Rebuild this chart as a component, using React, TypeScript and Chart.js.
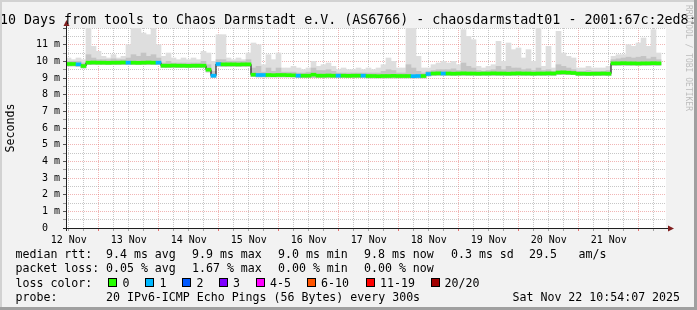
import React, { useEffect, useRef } from 'react';
import { Chart, registerables } from 'chart.js';

Chart.register(...registerables);

// ---------- data ----------
const titleText = '10 Days from tools to Chaos Darmstadt e.V. (AS6766) - chaosdarmstadt01 - 2001:67c:2ed8:';
const yAxisTitle = 'Seconds';
const watermark = 'RRDTOOL / TOBI OETIKER';

// x in hours since Wed Nov 12 10:54:07 2025 (10-day window), 2h bins
const rangeHours = 240;
const binHours = 2;
const firstNoonOffset = 1.1; // 12 Nov 12:00 relative to window start
const dayLabels = ['12 Nov', '13 Nov', '14 Nov', '15 Nov', '16 Nov', '17 Nov', '18 Nov', '19 Nov', '20 Nov', '21 Nov'];
const yLabels = ['0  ', '1 m', '2 m', '3 m', '4 m', '5 m', '6 m', '7 m', '8 m', '9 m', '10 m', '11 m', ''];

// values in milliseconds (axis unit m = milli-seconds)
const medianRtt = [
  9.84, 9.84, 9.82, 9.72,
  9.92, 9.93, 9.92, 9.92, 9.91, 9.92, 9.92, 9.93, 9.92, 9.92, 9.91, 9.92, 9.93, 9.92, 9.92,
  9.74, 9.74, 9.75, 9.74, 9.74, 9.73, 9.74, 9.74, 9.74,
  9.5, 9.14,
  9.84, 9.82, 9.82, 9.82, 9.81, 9.82, 9.82,
  9.2,
  9.18, 9.18, 9.18, 9.17, 9.18, 9.18, 9.17, 9.16,
  9.14, 9.14, 9.14, 9.2, 9.14, 9.14, 9.15, 9.14,
  9.14, 9.14, 9.13, 9.14, 9.14, 9.14,
  9.12, 9.12, 9.11, 9.12, 9.12, 9.13, 9.12, 9.12, 9.12, 9.11, 9.12, 9.12,
  9.24,
  9.27, 9.28, 9.27, 9.27, 9.26, 9.27, 9.28, 9.27, 9.27, 9.26, 9.27, 9.27, 9.28,
  9.27, 9.27, 9.26, 9.27, 9.28, 9.27, 9.27, 9.26, 9.27, 9.27, 9.28, 9.27,
  9.33, 9.34, 9.32, 9.3,
  9.26, 9.26, 9.25, 9.26, 9.26, 9.27, 9.26,
  9.88, 9.88, 9.89, 9.88, 9.88, 9.87, 9.88, 9.88, 9.89, 9.88,
  null,
];

const smokeMax = [
  10.2, 10.1, 10.2, 10.1, 12.0, 10.9, 10.6, 10.3, 10.2, 10.4,
  10.2, 10.3, 11.0, 12.0, 12.0, 11.7, 11.6, 12.0, 11.0, 10.3,
  10.5, 10.2, 10.1, 10.2, 10.1, 10.2, 10.1, 10.6, 10.5, 10.0,
  11.6, 11.6, 10.2, 10.1, 10.2, 10.1, 10.5, 11.1, 11.0, 9.8,
  10.4, 10.1, 10.5, 9.6, 9.6, 9.7, 9.6, 9.5, 9.6, 10.0,
  9.7, 9.8, 9.9, 9.7, 9.5, 9.6, 9.5, 9.5, 9.6, 9.5,
  9.6, 9.5, 9.6, 9.8, 10.2, 10.0, 9.6, 9.6, 12.0, 12.0,
  10.3, 9.6, 9.6, 9.8, 9.9, 10.0, 9.9, 10.0, 9.8, 11.9,
  11.5, 11.3, 9.7, 9.6, 9.7, 9.8, 11.2, 10.0, 11.1, 10.7,
  10.8, 10.2, 10.7, 10.0, 12.0, 9.7, 10.9, 9.6, 11.8, 10.5,
  10.3, 10.2, 9.6, 9.6, 9.7, 9.6, 9.6, 9.6, 9.7, 10.3,
  10.4, 10.4, 11.0, 10.9, 11.1, 11.4, 10.9, 11.9, 10.5, null,
];

const smokeMid = [
  10.0, 10.0, 10.0, 9.9, 10.4, 10.2, 10.1, 10.1, 10.1, 10.15,
  10.1, 10.1, 10.2, 10.4, 10.3, 10.5, 10.3, 10.4, 10.2, 9.9,
  10.0, 9.9, 9.9, 9.9, 9.9, 9.9, 9.9, 10.0, 9.8, 9.4,
  10.1, 10.1, 10.0, 10.0, 10.0, 10.0, 10.1, 9.6, 9.7, 9.35,
  9.6, 9.4, 9.6, 9.35, 9.35, 9.35, 9.3, 9.3, 9.35, 9.6,
  9.45, 9.45, 9.5, 9.4, 9.3, 9.3, 9.3, 9.3, 9.3, 9.3,
  9.3, 9.3, 9.3, 9.4, 9.5, 9.45, 9.3, 9.3, 9.8, 9.6,
  9.4, 9.3, 9.4, 9.45, 9.5, 9.5, 9.5, 9.55, 9.45, 9.9,
  9.7, 9.6, 9.45, 9.4, 9.45, 9.5, 9.7, 9.5, 9.7, 9.6,
  9.6, 9.5, 9.55, 9.45, 9.6, 9.45, 9.5, 9.4, 9.8, 9.7,
  9.6, 9.5, 9.4, 9.4, 9.45, 9.4, 9.4, 9.4, 9.45, 10.1,
  10.15, 10.2, 10.25, 10.2, 10.25, 10.3, 10.15, 10.25, 10.1, null,
];

const smokeMin = [
  9.72, 9.72, 9.7, 9.6, 9.8, 9.8, 9.8, 9.8, 9.8, 9.8,
  9.8, 9.8, 9.8, 9.8, 9.8, 9.8, 9.8, 9.8, 9.8, 9.62,
  9.62, 9.62, 9.62, 9.62, 9.62, 9.62, 9.62, 9.62, 9.36, 9.02,
  9.7, 9.7, 9.7, 9.7, 9.7, 9.7, 9.7, 9.08, 9.06, 9.06,
  9.06, 9.06, 9.06, 9.06, 9.06, 9.06, 9.02, 9.02, 9.02, 9.02,
  9.02, 9.02, 9.02, 9.02, 9.02, 9.02, 9.02, 9.02, 9.02, 9.02,
  9.0, 9.0, 9.0, 9.0, 9.0, 9.0, 9.0, 9.0, 9.0, 9.0,
  9.0, 9.0, 9.12, 9.15, 9.15, 9.15, 9.15, 9.15, 9.15, 9.15,
  9.15, 9.15, 9.15, 9.15, 9.15, 9.15, 9.15, 9.15, 9.15, 9.15,
  9.15, 9.15, 9.15, 9.15, 9.15, 9.15, 9.15, 9.15, 9.2, 9.2,
  9.2, 9.2, 9.14, 9.14, 9.14, 9.14, 9.14, 9.14, 9.14, 9.76,
  9.76, 9.76, 9.76, 9.76, 9.76, 9.76, 9.76, 9.76, 9.76, null,
];

// bins in which 1 of 20 pings was lost
const lossBins = [2, 12, 18, 29, 30, 38, 39, 46, 54, 59, 69, 70, 72, 75];

const statLabels = ['median rtt:', 'packet loss:', 'loss color:', 'probe:'];
const rttStats = ['9.4 ms avg', '9.9 ms max', '9.0 ms min', '9.8 ms now', '0.3 ms sd', '29.5', 'am/s'];
const lossStats = ['0.05 % avg', '1.67 % max', '0.00 % min', '0.00 % now'];
const lossLegendLabels = ['0', '1', '2', '3', '4-5', '6-10', '11-19', '20/20'];
const lossLegendColors = ['#26ff00', '#00b8ff', '#0059ff', '#7e00ff', '#ff00ff', '#ff5500', '#ff0000', '#a10000'];
const probeText = '20 IPv6-ICMP Echo Pings (56 Bytes) every 300s';
const dateText = 'Sat Nov 22 10:54:07 2025';

// ---------- styling ----------
const MONO = "'DejaVu Sans Mono', monospace";
const MINOR_GRID = 'rgba(143,143,143,0.5)';
const MAJOR_GRID = 'rgba(222,79,79,0.42)';
const AXIS = '#1f1f1f';
const ARROW = 'rgb(128,31,31)';
const BAND = 0.09;

const xTickValues = Array.from({ length: 40 }, (_, k) => firstNoonOffset + 6 * k);
const yTickValues = Array.from({ length: 25 }, (_, k) => k * 0.5);

const binCenter = (i: number) => i * binHours + binHours / 2;

const decorPlugin = {
  id: 'decor',
  beforeDraw(chart: any) {
    const { ctx, chartArea: a, width, height } = chart;
    ctx.save();
    ctx.fillStyle = '#f2f2f2';
    ctx.fillRect(0, 0, width, height);
    ctx.fillStyle = '#ffffff';
    ctx.fillRect(a.left, a.top, a.right - a.left, a.bottom - a.top);
    ctx.restore();
  },
  afterDraw(chart: any) {
    const { ctx, chartArea: a, width, height } = chart;
    ctx.save();
    // axes
    ctx.strokeStyle = AXIS;
    ctx.lineWidth = 1;
    ctx.beginPath();
    ctx.moveTo(a.left + 0.5, a.bottom + 3);
    ctx.lineTo(a.left + 0.5, a.top - 4);
    ctx.moveTo(a.left - 3, a.bottom + 0.5);
    ctx.lineTo(a.right + 3, a.bottom + 0.5);
    ctx.stroke();
    ctx.fillStyle = ARROW;
    ctx.beginPath();
    ctx.moveTo(a.left - 2.5, a.top - 2);
    ctx.lineTo(a.left + 3.5, a.top - 2);
    ctx.lineTo(a.left + 0.5, a.top - 8);
    ctx.closePath();
    ctx.fill();
    ctx.beginPath();
    ctx.moveTo(a.right + 2, a.bottom - 2.5);
    ctx.lineTo(a.right + 2, a.bottom + 3.5);
    ctx.lineTo(a.right + 8, a.bottom + 0.5);
    ctx.closePath();
    ctx.fill();

    // title
    ctx.fillStyle = '#000';
    ctx.textBaseline = 'alphabetic';
    ctx.textAlign = 'left';
    ctx.font = `13.3px ${MONO}`;
    ctx.fillText(titleText, 0, 24);

    // y axis title
    ctx.save();
    ctx.font = `11.6px ${MONO}`;
    ctx.translate(11, 128);
    ctx.rotate(-Math.PI / 2);
    ctx.textAlign = 'center';
    ctx.textBaseline = 'middle';
    ctx.fillText(yAxisTitle, 0, 0);
    ctx.restore();

    // watermark
    ctx.save();
    ctx.font = `8px ${MONO}`;
    ctx.fillStyle = '#bdbdbd';
    ctx.translate(688.5, 5);
    ctx.rotate(Math.PI / 2);
    ctx.textAlign = 'left';
    ctx.textBaseline = 'middle';
    ctx.fillText(watermark, 0, 0);
    ctx.restore();

    // legend
    ctx.font = `11.6px ${MONO}`;
    ctx.fillStyle = '#000';
    ctx.textAlign = 'left';
    ctx.textBaseline = 'alphabetic';
    const rows = [258.3, 272.3, 286.5, 300.5];
    statLabels.forEach((t, i) => ctx.fillText(t, 15.5, rows[i]));
    const rttX = [106, 192, 278, 364, 451, 529, 578.5];
    rttStats.forEach((t, i) => ctx.fillText(t, rttX[i], rows[0]));
    const lossX = [106, 192, 278, 364];
    lossStats.forEach((t, i) => ctx.fillText(t, lossX[i], rows[1]));
    const boxX = [108, 145, 182, 219, 256, 307, 366, 431];
    const labX = [122.5, 159.5, 196.5, 233, 270, 321, 380, 444.5];
    lossLegendLabels.forEach((t, i) => {
      ctx.fillStyle = lossLegendColors[i];
      ctx.fillRect(boxX[i], 278, 9, 9);
      ctx.strokeStyle = '#000';
      ctx.lineWidth = 1;
      ctx.strokeRect(boxX[i] + 0.5, 278.5, 8, 8);
      ctx.fillStyle = '#000';
      ctx.fillText(t, labX[i], rows[2]);
    });
    ctx.fillText(probeText, 106, rows[3]);
    ctx.fillText(dateText, 512.5, rows[3]);

    // frame shading
    ctx.fillStyle = '#d2d2d2';
    ctx.fillRect(0, 0, width, 2);
    ctx.fillRect(0, 0, 2, height);
    ctx.fillStyle = '#a0a0a0';
    ctx.fillRect(0, height - 3, width, 3);
    ctx.fillRect(width - 3, 0, 3, height);
    ctx.restore();
  },
};

export default function App() {
  const ref = useRef<HTMLCanvasElement | null>(null);

  useEffect(() => {
    const canvas = ref.current;
    if (!canvas) return;

    const idx = medianRtt.map((_, i) => i).filter((i) => medianRtt[i] !== null);
    const outerData = idx.map((i) => ({ x: binCenter(i), y: [smokeMin[i] as number, smokeMax[i] as number] }));
    const midData = idx.map((i) => ({ x: binCenter(i), y: [smokeMin[i] as number, smokeMid[i] as number] }));
    const bandData = idx.map((i) => ({ x: binCenter(i), y: [(medianRtt[i] as number) - BAND, (medianRtt[i] as number) + BAND] }));
    const bandColors = idx.map((i) => (lossBins.includes(i) ? lossLegendColors[1] : lossLegendColors[0]));
    const lineData = idx.map((i) => ({ x: binCenter(i), y: medianRtt[i] as number }));

    const barCommon = {
      type: 'bar' as const,
      grouped: false,
      barPercentage: 1,
      categoryPercentage: 1,
      borderWidth: 0,
    };

    const chart = new Chart(canvas, {
      type: 'bar',
      data: {
        datasets: [
          { ...barCommon, data: bandData as any, backgroundColor: bandColors, order: 0 },
          {
            type: 'line',
            data: lineData as any,
            borderColor: '#000',
            borderWidth: 1,
            pointRadius: 0,
            stepped: 'middle',
            order: 1,
          } as any,
          { ...barCommon, data: midData as any, backgroundColor: '#c4c4c4', order: 2 },
          { ...barCommon, data: outerData as any, backgroundColor: '#dedede', order: 3 },
        ],
      },
      options: {
        responsive: false,
        animation: false,
        events: [],
        layout: { padding: { left: 0, top: 28, right: 31, bottom: 0 } },
        plugins: {
          legend: { display: false },
          tooltip: { enabled: false },
          title: { display: false },
        },
        scales: {
          x: {
            type: 'linear',
            min: 0,
            max: rangeHours,
            offset: false,
            afterFit: (s: any) => {
              s.height = 82;
            },
            afterBuildTicks: (s: any) => {
              s.ticks = xTickValues.map((v) => ({ value: v }));
            },
            grid: {
              offset: false,
              color: (c: any) => (c.index % 4 === 2 ? MAJOR_GRID : MINOR_GRID),
              tickColor: (c: any) => (c.index % 4 === 2 ? 'rgba(222,79,79,0.8)' : 'rgba(143,143,143,0.8)'),
              lineWidth: 1,
              tickLength: 3,
            },
            border: { display: false, dash: [1, 1] },
            ticks: {
              autoSkip: false,
              maxRotation: 0,
              minRotation: 0,
              padding: 3,
              color: '#000',
              font: { family: MONO, size: 10 },
              callback: (_v: any, i: number) => (i % 4 === 0 ? dayLabels[i / 4] ?? '' : ''),
            },
          },
          y: {
            type: 'linear',
            min: 0,
            max: 12,
            afterFit: (s: any) => {
              s.width = 66;
            },
            afterBuildTicks: (s: any) => {
              s.ticks = yTickValues.map((v) => ({ value: v }));
            },
            grid: {
              color: (c: any) => (c.index % 2 === 0 && c.index > 0 && c.index < 24 ? MAJOR_GRID : MINOR_GRID),
              tickColor: (c: any) => (c.index % 2 === 0 ? '#555' : '#999'),
              lineWidth: 1,
              tickLength: 3,
            },
            border: { display: false, dash: [1, 1] },
            ticks: {
              autoSkip: false,
              padding: 3,
              color: '#000',
              font: { family: MONO, size: 10 },
              callback: (_v: any, i: number) => (i % 2 === 0 ? yLabels[i / 2] ?? '' : ''),
            },
          },
        },
      } as any,
      plugins: [decorPlugin],
    });

    return () => chart.destroy();
  }, []);

  return (
    <div style={{ position: 'absolute', left: 0, top: 0, width: 697, height: 310 }}>
      <canvas ref={ref} width={697} height={310} style={{ display: 'block', width: 697, height: 310 }} />
    </div>
  );
}
